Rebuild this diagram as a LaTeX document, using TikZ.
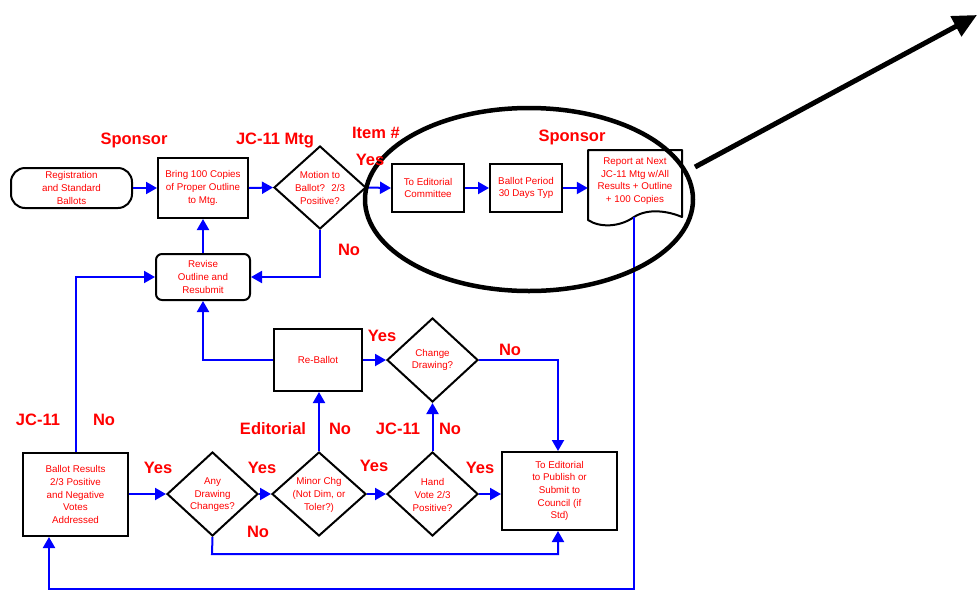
\documentclass[tikz,border=0pt]{standalone}
\usepackage{fontspec}
\setmainfont{Liberation Sans}
\usetikzlibrary{shapes.geometric,arrows.meta}
\begin{document}
\begin{tikzpicture}[x=1pt,y=-1pt,
  smalltext/.style={text=red, font=\fontsize{9.8}{12.6}\selectfont, align=center, inner sep=0},
  lbl/.style={text=red, font=\bfseries\fontsize{16.5}{18}\selectfont, inner sep=0},
  box/.style={draw=black, line width=2pt, inner sep=0, text=red, font=\fontsize{9.8}{12.6}\selectfont, align=center},
  rbox/.style={box, rounded corners=6pt},
  dia/.style={diamond, draw=black, line width=2pt, inner sep=0},
  flow/.style={draw=blue, line width=2pt, -{Triangle[length=11pt,width=12pt]}},
  wire/.style={draw=blue, line width=2pt}
]
\useasboundingbox (0,0) rectangle (978,590);

% top row
\node[box, rounded corners=14pt, minimum width=121, minimum height=40] (reg) at (71.5,188) {Registration\\and Standard\\Ballots};
\node[box, minimum width=90, minimum height=60] (bring) at (203,188) {Bring 100 Copies\\of Proper Outline\\to Mtg.};
\node[dia, minimum width=92, minimum height=83] (motion) at (320,187.5) {};
\node[smalltext] (motiontxt) at (320,188) {Motion to\\Ballot?~ 2/3\\Positive?};
\node[box, minimum width=72, minimum height=48] (ed) at (428,188) {To Editorial\\Committee};
\node[box, minimum width=72, minimum height=48] (bp) at (526,188) {Ballot Period\\30 Days Typ};
\node[minimum width=94, minimum height=60, inner sep=0] (report) at (635,180) {};
\draw[line width=2pt, line join=round] (588,220) -- (588,150) -- (682,150) -- (682,217)
  .. controls (668,211) and (648,208) .. (634,217)
  .. controls (620,227) and (600,228) .. (588,220) -- cycle;
\node[smalltext] (reporttxt) at (635,181) {Report at Next\\JC-11 Mtg w/All\\Results + Outline\\+ 100 Copies};
\coordinate (reportbot) at (634,217);

\node[rbox, minimum width=94, minimum height=46] (revise) at (203,277) {Revise\\Outline and\\Resubmit};

% middle row
\node[box, minimum width=88, minimum height=62] (reballot) at (318,360) {Re-Ballot};
\node[dia, minimum width=91, minimum height=84] (change) at (432.5,360) {};
\node[smalltext] (changetxt) at (432.5,360) {Change\\Drawing?};

% bottom row
\node[box, minimum width=105, minimum height=83] (results) at (75.5,494.5) {Ballot Results\\2/3 Positive\\and Negative\\Votes\\Addressed};
\node[dia, minimum width=91, minimum height=84] (anyd) at (212.5,494) {};
\node[smalltext] (anydtxt) at (212.5,495) {Any\\Drawing\\Changes?};
\node[dia, minimum width=94, minimum height=84] (minor) at (319,494) {};
\node[smalltext] (minortxt) at (319,495) {Minor Chg\\(Not Dim, or\\Toler?)};
\node[dia, minimum width=91, minimum height=84] (hand) at (432.5,494) {};
\node[smalltext] (handtxt) at (432.5,495) {Hand\\Vote 2/3\\Positive?};
\node[box, minimum width=115, minimum height=78] (publish) at (559.5,491) {To Editorial\\to Publish or\\Submit to\\Council (if\\Std)};

% connectors
\draw[flow] (reg.east) -- (bring.west);
\draw[flow] (bring.east) -- (motion.west);
\draw[flow] (motion.east) -- (ed.west);
\draw[flow] (ed.east) -- (bp.west);
\draw[flow] (bp.east) -- (report.west |- bp.east);
\draw[flow] (motion.south) |- (revise.east);
\draw[flow] (revise.north) -- (bring.south);
\draw[flow] (results.north) |- (revise.west);
\draw[flow] (reballot.west) -| (revise.south);
\draw[flow] (reballot.east) -- (change.west);
\draw[flow] (change.east) -| (publish.north -| 558,0);
\draw[flow] (results.east |- anyd.west) -- (anyd.west);
\draw[flow] (anyd.east) -- (minor.west);
\draw[flow] (minor.north) -- (minor.north |- reballot.south);
\draw[flow] (minor.east) -- (hand.west);
\draw[flow] (hand.north) -- (change.south);
\draw[flow] (hand.east) -- (publish.west |- hand.east);
\draw[flow] (anyd.south) -- (212,554) -- (558,554) -- (publish.south -| 558,0);
\draw[flow] (reportbot) -- (634,589) -- (49,589) -- (results.south -| 49,0);

% annotation ellipse and arrow
\draw[line width=4.5pt] (529,199.5) ellipse [x radius=164, y radius=91.5];
\coordinate (arrowstart) at (695,167);
\coordinate (arrowend) at (977,15);
\draw[line width=5pt, -{Triangle[length=24pt,width=22pt]}] (arrowstart) -- (arrowend);

% labels
\node[lbl] (l1) at (134,140) {Sponsor};
\node[lbl] (l2) at (275,140) {JC-11 Mtg};
\node[lbl] (l3) at (376,133) {Item \#};
\node[lbl] (l4) at (370,160) {Yes};
\node[lbl] (l5) at (349,250) {No};
\node[lbl] (l6) at (572,137) {Sponsor};
\node[lbl] (l7) at (382,336) {Yes};
\node[lbl] (l8) at (510,350) {No};
\node[lbl] (l9) at (38,420) {JC-11};
\node[lbl] (l10) at (104,420) {No};
\node[lbl] (l11) at (273,429) {Editorial};
\node[lbl] (l12) at (340,429) {No};
\node[lbl] (l13) at (398,429) {JC-11};
\node[lbl] (l14) at (450,429) {No};
\node[lbl] (l15) at (158,468) {Yes};
\node[lbl] (l16) at (262,468) {Yes};
\node[lbl] (l17) at (258,532) {No};
\node[lbl] (l18) at (374,466) {Yes};
\node[lbl] (l19) at (480,468) {Yes};
\end{tikzpicture}
\end{document}
